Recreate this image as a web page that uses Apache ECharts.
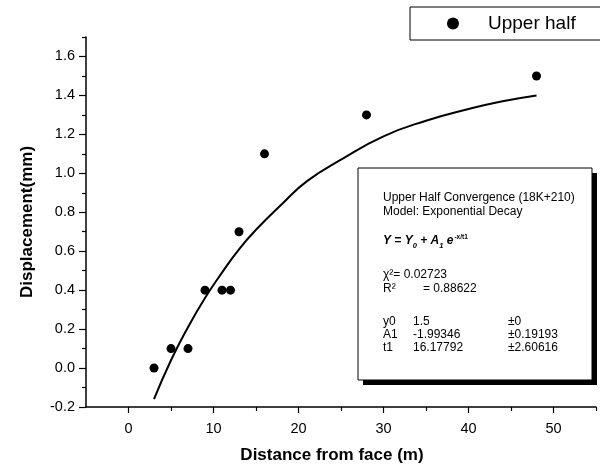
<!DOCTYPE html>
<html>
<head>
<meta charset="utf-8">
<script src="https://cdn.jsdelivr.net/npm/echarts@6/dist/echarts.min.js"></script>
<style>
html, body { margin: 0; padding: 0; background: #fff; }
#main { width: 600px; height: 468px; }
</style>
</head>
<body>
<div id="main"></div>
<script>
var myChart = echarts.init(document.getElementById('main'));

// measured points
var distX = [3, 5, 7, 9, 11, 12, 13, 16, 28, 48];
var dispY = [0.0, 0.1, 0.1, 0.4, 0.4, 0.4, 0.7, 1.1, 1.3, 1.5];

// fitted curve
var fitX = [3, 5, 7, 9, 11, 13, 15, 18, 21, 25, 30, 35, 40, 44, 48];
var fitY = [-0.16, 0.04, 0.21, 0.36, 0.49, 0.61, 0.71, 0.84, 0.96, 1.07, 1.19, 1.27, 1.33, 1.37, 1.40];

var xMajor = [0, 10, 20, 30, 40, 50];
var xMinor = [5, 15, 25, 35, 45, 55];
var yMajor = [-0.2, 0.0, 0.2, 0.4, 0.6, 0.8, 1.0, 1.2, 1.4, 1.6];
var yMinor = [-0.1, 0.1, 0.3, 0.5, 0.7, 0.9, 1.1, 1.3, 1.5, 1.7];

var FONT = "'Liberation Sans', Arial, sans-serif";

function pairs(xs, ys) {
	var out = [];
	for (var i = 0; i < xs.length; i++) {
		out.push([xs[i], ys[i]]);
	}
	return out;
}

var boxX = 358, boxY = 168, boxW = 234, boxH = 212;

function label(x, y, s) {
	return {
		type: 'text',
		x: x,
		y: y,
		z: 12,
		style: {text: s, fill: '#000', fontFamily: FONT, fontSize: 12, verticalAlign: 'middle'}
	};
}

var option = {
	backgroundColor: '#fff',
	animation: false,
	grid: {
		left: 86,
		right: 4,
		top: 37,
		bottom: 61,
		outerBoundsMode: 'none'
	},
	legend: {
		left: 410,
		top: 7,
		orient: 'horizontal',
		padding: [7, 40, 7, 37],
		borderColor: '#000',
		borderWidth: 1,
		itemWidth: 12,
		itemHeight: 12,
		data: [{name: 'Upper half', icon: 'circle'}],
		textStyle: {
			color: '#000',
			fontFamily: FONT,
			fontSize: 19,
			padding: [0, 0, 0, 24]
		}
	},
	xAxis: [{
			type: 'value',
			min: -5,
			max: 55,
			position: 'bottom',
			name: 'Distance from face (m)',
			nameLocation: 'middle',
			nameGap: 40,
			nameTextStyle: {
				color: '#000',
				fontFamily: FONT,
				fontSize: 17,
				fontWeight: 'bold',
				padding: [0, 18, 0, 0]
			},
			axisLine: {onZero: false, lineStyle: {color: '#000', width: 1.5}},
			axisTick: {customValues: xMajor, length: 6, lineStyle: {color: '#000', width: 1.2}},
			axisLabel: {
				customValues: xMajor,
				color: '#000',
				fontFamily: FONT,
				fontSize: 14.5,
				margin: 14
			},
			splitLine: {show: false}
		},
		{
			type: 'value',
			min: -5,
			max: 55,
			position: 'bottom',
			axisLine: {show: false, onZero: false},
			axisTick: {customValues: xMinor, length: 4, lineStyle: {color: '#000', width: 1.2}},
			axisLabel: {show: false},
			splitLine: {show: false}
		}
	],
	yAxis: [{
			type: 'value',
			min: -0.2,
			max: 1.7,
			position: 'left',
			name: 'Displacement(mm)',
			nameLocation: 'middle',
			nameGap: 50,
			nameTextStyle: {
				color: '#000',
				fontFamily: FONT,
				fontSize: 17,
				fontWeight: 'bold'
			},
			axisLine: {onZero: false, lineStyle: {color: '#000', width: 1.5}},
			axisTick: {customValues: yMajor, length: 7, lineStyle: {color: '#000', width: 1.2}},
			axisLabel: {
				customValues: yMajor,
				color: '#000',
				fontFamily: FONT,
				fontSize: 14.5,
				margin: 11,
				formatter: function(v) {
					return v.toFixed(1);
				}
			},
			splitLine: {show: false}
		},
		{
			type: 'value',
			min: -0.2,
			max: 1.7,
			position: 'left',
			axisLine: {show: false, onZero: false},
			axisTick: {customValues: yMinor, length: 4, lineStyle: {color: '#000', width: 1.2}},
			axisLabel: {show: false},
			splitLine: {show: false}
		}
	],
	series: [{
			name: 'Fit',
			type: 'line',
			data: pairs(fitX, fitY),
			smooth: true,
			symbol: 'none',
			lineStyle: {color: '#000', width: 2},
			z: 3
		},
		{
			name: 'Upper half',
			type: 'scatter',
			data: pairs(distX, dispY),
			symbol: 'circle',
			symbolSize: 9,
			itemStyle: {color: '#000', opacity: 1},
			z: 4
		}
	],
	graphic: [
		{type: 'rect', z: 10, shape: {x: boxX + 5, y: boxY + 5, width: boxW, height: boxH}, style: {fill: '#000'}},
		{type: 'rect', z: 11, shape: {x: boxX, y: boxY, width: boxW, height: boxH}, style: {fill: '#fff', stroke: '#000', lineWidth: 1}},
		label(383, 198, 'Upper Half Convergence (18K+210)'),
		label(383, 212, 'Model: Exponential Decay'),
		{
			type: 'text',
			x: 383,
			y: 240,
			z: 12,
			style: {
				text: '{b|Y = Y}{s|0}{b| + A}{s|1}{b| e}{p|-x/t1}',
				fill: '#000',
				verticalAlign: 'middle',
				rich: {
					b: {fontFamily: FONT, fontSize: 12, fontWeight: 'bold', fontStyle: 'italic', verticalAlign: 'bottom'},
					s: {fontFamily: FONT, fontSize: 7.5, fontWeight: 'bold', fontStyle: 'italic', verticalAlign: 'bottom', padding: [0, 0, -3, 0]},
					p: {fontFamily: FONT, fontSize: 6.5, fontWeight: 'bold', verticalAlign: 'top', padding: [0, 0, 6, 1]}
				}
			}
		},
		label(383, 275, '\u03c7\u00b2= 0.02723'),
		label(383, 289, 'R\u00b2'),
		label(423, 289, '= 0.88622'),
		label(383, 322, 'y0'),
		label(413, 322, '1.5'),
		label(508, 322, '\u00b10'),
		label(383, 335, 'A1'),
		label(413, 335, '-1.99346'),
		label(508, 335, '\u00b10.19193'),
		label(383, 348, 't1'),
		label(413, 348, '16.17792'),
		label(508, 348, '\u00b12.60616')
	]
};

myChart.setOption(option);
</script>
</body>
</html>
